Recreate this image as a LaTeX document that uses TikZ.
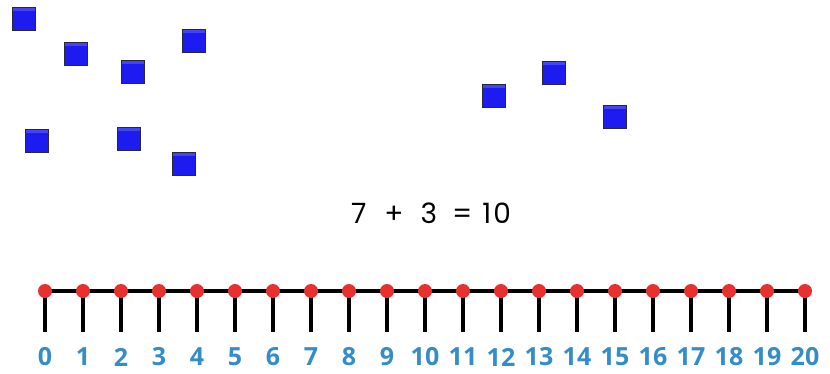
\documentclass[tikz,border=0pt]{standalone}
\usepackage{fontspec}
\setmainfont{Poppins}
\newfontfamily\numfont{Open Sans}
\definecolor{sqblue}{RGB}{28,28,240}
\definecolor{sqedge}{RGB}{40,40,60}
\definecolor{dotred}{RGB}{232,48,46}
\definecolor{numblue}{RGB}{52,140,200}
\begin{document}
\begin{tikzpicture}[x=1pt,y=-1pt,
  blk/.style={draw=sqedge,line width=1.4pt,fill=sqblue,minimum size=23pt,inner sep=0pt,
    path picture={\fill[white,opacity=0.18] (path picture bounding box.north west) rectangle ([yshift=-3pt]path picture bounding box.north east);}},
  dot/.style={circle,fill=dotred,minimum size=14pt,inner sep=0pt},
  lab/.style={font=\numfont\bfseries\fontsize{25}{25}\selectfont,text=numblue,inner sep=0pt},
  eq/.style={font=\fontsize{28}{28}\selectfont,inner sep=0pt}]
\useasboundingbox (0,0) rectangle (830,373);
% left group of 7
\node[blk] (s1) at (24,19) {};
\node[blk] (s2) at (76,54) {};
\node[blk] (s3) at (133,72) {};
\node[blk] (s4) at (194,41) {};
\node[blk] (s5) at (37,141) {};
\node[blk] (s6) at (129,139) {};
\node[blk] (s7) at (184,164) {};
% right group of 3
\node[blk] (r1) at (494,96) {};
\node[blk] (r2) at (554,73) {};
\node[blk] (r3) at (615,117) {};
% equation
\node[eq] (eq) at (431,213) {7\hspace{18pt}+\hspace{17pt}3\hspace{15pt}=\hspace{10pt}1\hspace{2pt}0};
% number line
\foreach \i in {0,...,20}{
  \coordinate (c\i) at ({45+38*\i},291);
  \coordinate (t\i) at ({45+38*\i},332);
}
\foreach \i in {0,...,20}{
  \draw[line width=4.5pt] (c\i) -- (t\i);
}
\draw[line width=3.5pt] (c0) -- (c20);
\foreach \i in {0,...,20}{
  \node[dot] (d\i) at (c\i) {};
  \node[lab] (n\i) at ({45+38*\i},357) {\i};
}
\end{tikzpicture}
\end{document}
